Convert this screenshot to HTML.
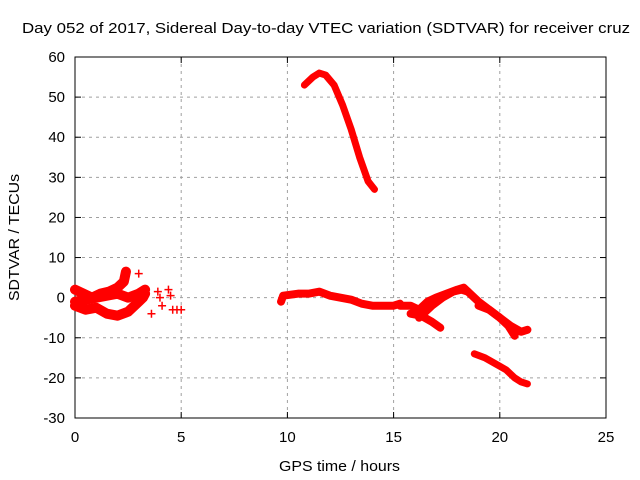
<!DOCTYPE html>
<html><head><meta charset="utf-8"><style>
html,body{margin:0;padding:0;background:#fff;}
svg{display:block;font-family:"Liberation Sans",sans-serif;}
</style></head><body>
<svg id="chart" width="640" height="480" viewBox="0 0 640 480">
<text x="22" y="33" font-size="15" textLength="608" lengthAdjust="spacingAndGlyphs" fill="#000">Day 052 of 2017, Sidereal Day-to-day VTEC variation (SDTVAR) for receiver cruz</text>
<g id="grid"></g>
<g id="axes"></g>
<g id="marks"></g>
<text x="279" y="471" font-size="15" textLength="121" lengthAdjust="spacingAndGlyphs">GPS time / hours</text>
<text transform="translate(19,301) rotate(-90)" font-size="15" textLength="127" lengthAdjust="spacingAndGlyphs">SDTVAR / TECUs</text>
</svg>
<script>
const xTicks=[0,5,10,15,20,25];
const yTicks=[-30,-20,-10,0,10,20,30,40,50,60];
const arcTop=[[10.8,53],[11.2,55],[11.5,56],[11.8,55.5],[12.2,53],[12.6,48],[13.0,42],[13.4,35],[13.8,29],[14.1,27]];
const arcMain=[[9.7,-1],[9.8,0.5],[10.5,1],[11,1],[11.5,1.5],[12,0.5],[12.5,0],[13,-0.5],[13.5,-1.5],[14,-2],[14.5,-2],[15,-2],[15.3,-1.5]];
const arcLate=[[15.3,-2],[15.8,-2],[16.2,-3],[16.6,-1],[17,0],[17.5,1],[18,2],[18.3,2.5],[18.6,1],[19,-1],[19.5,-3],[20,-5],[20.5,-7],[21,-8.5],[21.3,-8]];
const arcDroop=[[15.8,-4],[16.3,-4.5],[16.8,-6],[17.2,-7.5]];
const arcRise=[[16.2,-5],[16.8,-2],[17.3,0],[17.8,1.5],[18.2,2],[18.5,1.5]];
const arcFall=[[19,-2],[19.5,-3],[20,-5],[20.4,-7],[20.7,-9.5]];
const arcLow=[[18.8,-14],[19.3,-15],[19.8,-16.5],[20.3,-18],[20.7,-20],[21,-21],[21.3,-21.5]];
const arcEarly1=[[0,2],[0.4,1],[0.8,0],[1.2,1],[1.6,1.5],[2.0,2.5],[2.3,4],[2.4,6.5]];
const arcEarly2=[[0,-2],[0.5,-3],[1,-2.5],[1.5,-4],[2,-4.5],[2.5,-3.5],[2.8,-2],[3.0,-1],[3.2,0],[3.3,1]];
const arcEarly3=[[0,-1],[0.5,-0.5],[1,0],[1.5,0.5],[2,1],[2.5,0],[3,1],[3.3,2]];
const scatterPts=[[3.0,6],[3.6,-4],[3.9,1.5],[4.0,0],[4.1,-2],[4.4,2],[4.5,0.5],[4.6,-3],[4.8,-3],[5.0,-3]];

const X0=75,X1=606,Y0=418,Y1=57;
const xs=v=>X0+(v-0)/25*(X1-X0);
const ys=v=>Y0-(v+30)/90*(Y0-Y1);
const NS='http://www.w3.org/2000/svg';
function mk(t,a,p){const e=document.createElementNS(NS,t);for(const k in a)e.setAttribute(k,a[k]);p.appendChild(e);return e;}
const grid=document.getElementById('grid'),axes=document.getElementById('axes'),marks=document.getElementById('marks');
xTicks.forEach(t=>{
  if(t>0&&t<25){const l=mk('line',{x1:xs(t),x2:xs(t),y1:Y1,y2:Y0,stroke:'#a0a0a0','stroke-dasharray':'3,4'},grid);
  
  }
  mk('line',{x1:xs(t),x2:xs(t),y1:Y0,y2:Y0-6,stroke:'#000'},axes);
  mk('line',{x1:xs(t),x2:xs(t),y1:Y1,y2:Y1+6,stroke:'#000'},axes);
  const tx=mk('text',{x:xs(t),y:Y0+24,'font-size':15,'text-anchor':'middle'},axes);tx.textContent=t;
  
  
});
yTicks.forEach(t=>{
  if(t>-30&&t<60){const l=mk('line',{x1:X0,x2:X1,y1:ys(t),y2:ys(t),stroke:'#a0a0a0','stroke-dasharray':'3,4'},grid);
  
  }
  mk('line',{x1:X0,x2:X0+6,y1:ys(t),y2:ys(t),stroke:'#000'},axes);
  mk('line',{x1:X1,x2:X1-6,y1:ys(t),y2:ys(t),stroke:'#000'},axes);
  const tx=mk('text',{x:X0-10,y:ys(t)+5,'font-size':15,'text-anchor':'end'},axes);tx.textContent=t;
  
  
});
mk('rect',{x:X0,y:Y1,width:X1-X0,height:Y0-Y1,fill:'none',stroke:'#000'},axes);
[arcTop,arcMain,arcLate,arcDroop,arcRise,arcFall,arcLow,arcEarly1,arcEarly2,arcEarly3].forEach(arc=>{
  const w=(arc===arcTop||arc===arcLow)?7:(arc===arcEarly1||arc===arcEarly2||arc===arcEarly3)?10:8;
  const p=mk('polyline',{points:arc.map(d=>xs(d[0])+','+ys(d[1])).join(' '),fill:'none',stroke:'#f00','stroke-width':w,'stroke-linejoin':'round','stroke-linecap':'round'},marks);
  
  
});
scatterPts.forEach(d=>{
  const x=xs(d[0]),y=ys(d[1]);
  const p=mk('path',{d:`M${x-4},${y}H${x+4}M${x},${y-4}V${y+4}`,stroke:'#f00','stroke-width':1.5},marks);
  
  
});
</script>
</body></html>
